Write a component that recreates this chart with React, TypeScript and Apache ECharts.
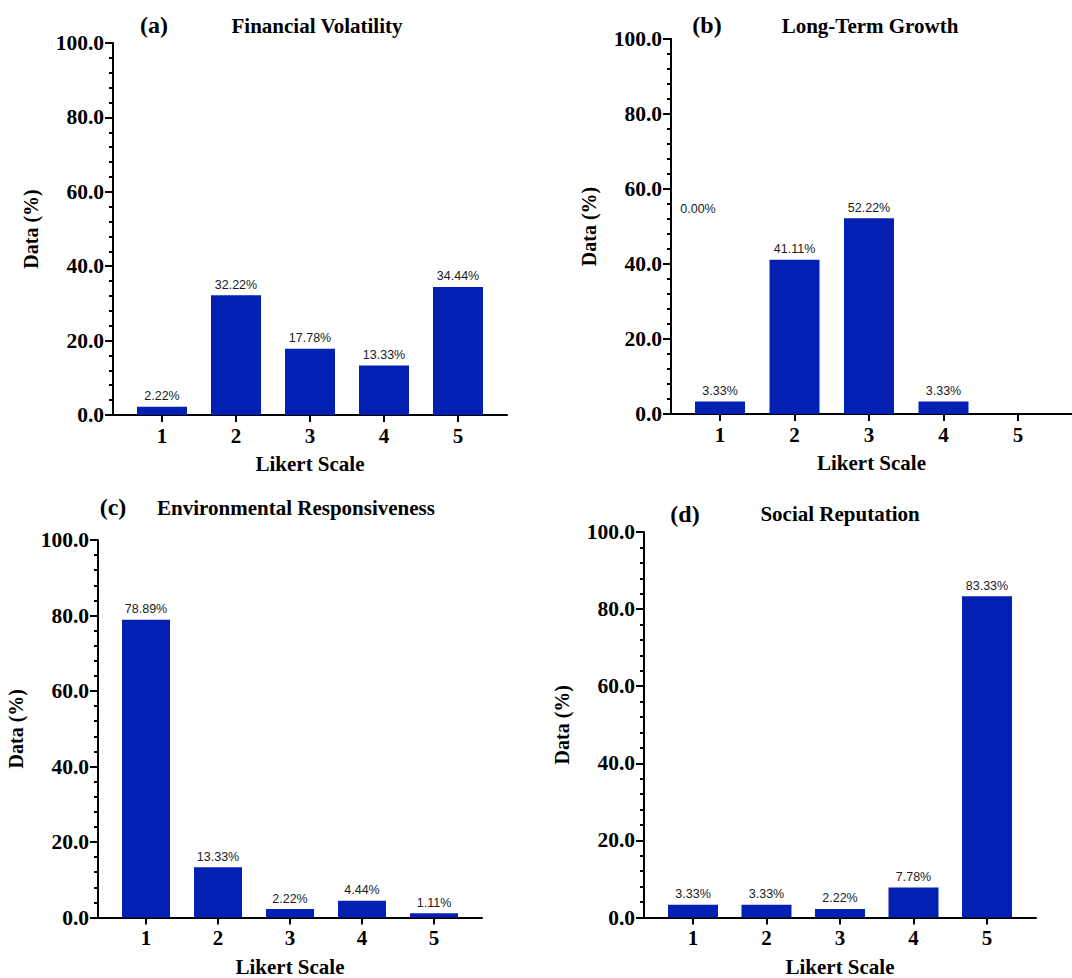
import React, { useEffect, useRef } from "react";
import * as echarts from "echarts";

const categories = [1, 2, 3, 4, 5];
const panelLetters = ["(a)", "(b)", "(c)", "(d)"];
const panelTitles = ["Financial Volatility", "Long-Term Growth", "Environmental Responsiveness", "Social Reputation"];
const financialVolatility = [2.22, 32.22, 17.78, 13.33, 34.44];
const longTermGrowth = [3.33, 41.11, 52.22, 3.33, 0.0];
const environmentalResponsiveness = [78.89, 13.33, 2.22, 4.44, 1.11];
const socialReputation = [3.33, 3.33, 2.22, 7.78, 83.33];
const yTicks = [0, 20, 40, 60, 80, 100];
const xAxisTitle = "Likert Scale";
const yAxisTitle = "Data (%)";

const seriesValues = [financialVolatility, longTermGrowth, environmentalResponsiveness, socialReputation];

// layout (pixels)
const grids = [
  { left: 113, top: 43, width: 394, height: 372, xMin: 0.338, xMax: 5.662, barW: 50 },
  { left: 671, top: 39, width: 401, height: 375, xMin: 0.342, xMax: 5.725, barW: 50 },
  { left: 98, top: 540, width: 384, height: 381, xMin: 0.333, xMax: 5.667, barW: 48 },
  { left: 644, top: 532, width: 392, height: 387, xMin: 0.333, xMax: 5.667, barW: 50 },
];
const titlePos = [
  { lx: 154, ly: 25, tx: 317, ty: 26 },
  { lx: 707, ly: 25, tx: 870, ty: 26 },
  { lx: 113, ly: 507, tx: 296, ty: 508 },
  { lx: 685, ly: 514, tx: 840, ty: 514 },
];

const SERIF = "'Liberation Serif', 'Times New Roman', serif";
const SANS = "'Liberation Sans', Arial, sans-serif";
const BAR = "#0320b3";

export default function App() {
  const ref = useRef<HTMLDivElement>(null);
  useEffect(() => {
    if (!ref.current) return;
    const chart = echarts.init(ref.current, null, { renderer: "svg" });
    const grid: any[] = [];
    const xAxis: any[] = [];
    const yAxis: any[] = [];
    const series: any[] = [];
    const graphic: any[] = [];
    grids.forEach((g, i) => {
      grid.push({ left: g.left, top: g.top, width: g.width, height: g.height, containLabel: false });
      xAxis.push({
        gridIndex: i,
        type: "value",
        min: g.xMin,
        max: g.xMax,
        name: xAxisTitle,
        nameLocation: "middle",
        nameGap: 49,
        nameTextStyle: { fontFamily: SERIF, fontWeight: "bold", fontSize: 21, color: "#000", align: "center", verticalAlign: "middle" },
        axisLine: { show: true, onZero: false, lineStyle: { color: "#000", width: 2 } },
        axisTick: { show: true, customValues: categories, length: 7, lineStyle: { color: "#000", width: 2 } },
        axisLabel: {
          show: true,
          customValues: categories,
          margin: 10,
          fontFamily: SERIF,
          fontWeight: "bold",
          fontSize: 21,
          color: "#000",
          formatter: (v: number) => String(Math.round(v)),
        },
        splitLine: { show: false },
      });
      yAxis.push({
        gridIndex: i,
        type: "value",
        min: yTicks[0],
        max: yTicks[yTicks.length - 1],
        interval: 20,
        name: yAxisTitle,
        nameLocation: "middle",
        nameGap: 82,
        nameRotate: 90,
        nameTextStyle: { fontFamily: SERIF, fontWeight: "bold", fontSize: 20, color: "#000", align: "center", verticalAlign: "middle" },
        axisLine: { show: true, lineStyle: { color: "#000", width: 2 } },
        axisTick: { show: true, length: 8, lineStyle: { color: "#000", width: 2 } },
        minorTick: { show: true, splitNumber: 5, length: 4, lineStyle: { color: "#000", width: 2 } },
        axisLabel: {
          margin: 9,
          fontFamily: SERIF,
          fontWeight: "bold",
          fontSize: 21.5,
          color: "#000",
          formatter: (v: number) => v.toFixed(1),
        },
        splitLine: { show: false },
        minorSplitLine: { show: false },
      });
      const vals = seriesValues[i];
      series.push({
        type: "bar",
        xAxisIndex: i,
        yAxisIndex: i,
        barWidth: g.barW,
        data: categories.map((c, j) => [c, vals[j]]),
        itemStyle: { color: BAR },
        label: {
          show: true,
          position: "top",
          distance: 4,
          fontFamily: SANS,
          fontSize: 12.5,
          color: "#1a1a1a",
          formatter: (p: any) => (i === 1 && p.value[1] === 0 ? "" : p.value[1].toFixed(2) + "%"),
        },
      });
      const t = titlePos[i];
      graphic.push({
        type: "text",
        x: t.lx,
        y: t.ly,
        style: { text: panelLetters[i], font: `bold 24px ${SERIF}`, fill: "#000", align: "center", verticalAlign: "middle" },
      });
      graphic.push({
        type: "text",
        x: t.tx,
        y: t.ty,
        style: { text: panelTitles[i], font: `bold 21px ${SERIF}`, fill: "#000", align: "center", verticalAlign: "middle" },
      });
    });
    // misplaced zero label in panel (b), as in the original figure
    graphic.push({
      type: "text",
      x: 698,
      y: 209,
      style: { text: longTermGrowth[4].toFixed(2) + "%", font: `12.5px ${SANS}`, fill: "#1a1a1a", align: "center", verticalAlign: "middle" },
    });
    chart.setOption({
      animation: false,
      backgroundColor: "#fff",
      grid,
      xAxis,
      yAxis,
      series,
      graphic,
    });
    return () => chart.dispose();
  }, []);
  return (
    <div
      ref={ref}
      style={{ position: "absolute", left: 0, top: 0, width: 1072, height: 978, background: "#fff" }}
    />
  );
}
